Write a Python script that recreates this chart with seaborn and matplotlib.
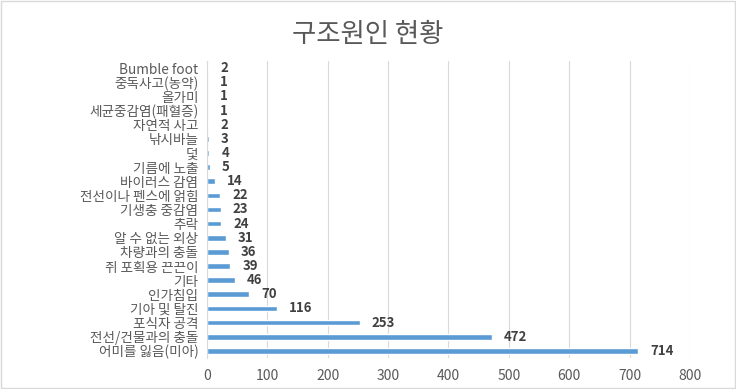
import matplotlib
matplotlib.use('Agg')
import matplotlib.pyplot as plt
import seaborn as sns
import pandas as pd

causes = ['Bumble foot', '중독사고(농약)', '올가미', '세균중감염(패혈증)', '자연적 사고',
          '낚시바늘', '덫', '기름에 노출', '바이러스 감염', '전선이나 펜스에 얽힘',
          '기생충 중감염', '추락', '알 수 없는 외상', '차량과의 충돌', '쥐 포획용 끈끈이',
          '기타', '인가침입', '기아 및 탈진', '포식자 공격', '전선/건물과의 충돌',
          '어미를 잃음(미아)']
counts = [2, 1, 1, 1, 2, 3, 4, 5, 14, 22, 23, 24, 31, 36, 39, 46, 70, 116, 253, 472, 714]
x_ticks = [0, 100, 200, 300, 400, 500, 600, 700, 800]

df = pd.DataFrame({'cause': causes, 'count': counts})

sns.set_style('white')
plt.rcParams['font.family'] = ['Noto Sans CJK KR', 'DejaVu Sans']

fig = plt.figure(figsize=(7.36, 3.89), dpi=100)
ax = fig.add_axes([0.281, 0.08, 0.6565, 0.763])

sns.barplot(data=df, y='cause', x='count', orient='h', color='#5B9BD5',
            saturation=1, width=0.4, ax=ax)

for i, v in enumerate(counts):
    ax.text(v + 20, i, str(v), va='center', ha='left', fontsize=9.5,
            color='#404040', fontweight='bold')

ax.set_xlim(0, 800)
ax.set_xticks(x_ticks)
ax.set_xticklabels([str(t) for t in x_ticks])
ax.set_ylim(len(causes) - 0.5, -0.5)
ax.xaxis.grid(True, color='#D9D9D9', linewidth=0.8)
ax.set_axisbelow(True)
for s in ['top', 'right', 'bottom']:
    ax.spines[s].set_visible(False)
ax.spines['left'].set_color('#D9D9D9')
ax.tick_params(axis='y', length=0, labelsize=9.8, colors='#595959', pad=6)
ax.tick_params(axis='x', length=0, labelsize=10, colors='#595959', pad=8)
ax.set_xlabel('')
ax.set_ylabel('')

fig.suptitle('구조원인 현황', x=0.5, y=0.945, fontsize=19, color='#595959')

border = plt.Rectangle((0.002, 0.003), 0.996, 0.994, transform=fig.transFigure,
                       fill=False, edgecolor='#D9D9D9', linewidth=1)
fig.patches.append(border)

fig.savefig('out.png', dpi=100)
